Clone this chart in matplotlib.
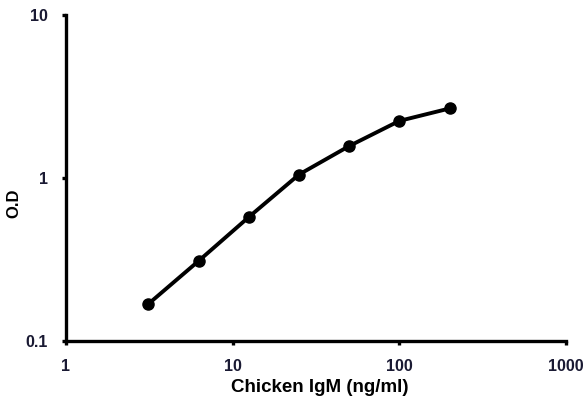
import matplotlib
matplotlib.use("Agg")
import matplotlib.pyplot as plt

conc = [3.125, 6.25, 12.5, 25, 50, 100, 200]
od = [0.169, 0.31, 0.576, 1.05, 1.57, 2.24, 2.67]
xticks = [1, 10, 100, 1000]
xtick_labels = ["1", "10", "100", "1000"]
yticks = [0.1, 1, 10]
ytick_labels = ["0.1", "1", "10"]

plt.rcParams['font.family'] = ['Liberation Sans', 'DejaVu Sans']

fig = plt.figure(figsize=(5.86, 4.03), dpi=100)
ax = fig.add_axes([66/586, 1-341/403, 500/586, 326/403])
ax.plot(conc, od, color='black', lw=2.8, marker='o', markersize=8, solid_capstyle='round')
ax.set_xscale('log')
ax.set_yscale('log')
ax.set_xlim(1, 1000)
ax.set_ylim(0.1, 10)
ax.minorticks_off()
ax.set_xticks(xticks)
ax.set_xticklabels(xtick_labels, fontsize=11.5, fontweight='bold', color='#1a1a33')
ax.set_yticks(yticks)
ax.set_yticklabels(ytick_labels, fontsize=11.5, fontweight='bold', color='#1a1a33')
ax.minorticks_off()
for s in ['top', 'right']:
    ax.spines[s].set_visible(False)
for s in ['left', 'bottom']:
    ax.spines[s].set_linewidth(2.4)
ax.tick_params(axis='both', which='major', direction='out', length=3, width=2.4, pad=10)
fig.text(320/586, 1-387/403, 'Chicken IgM (ng/ml)', fontsize=13.5, fontweight='bold',
         ha='center', va='center')
fig.text(14/586, 1-203/403, 'O.D', fontsize=12, fontweight='bold', rotation=90,
         ha='center', va='center')

fig.savefig('out.png', dpi=100)
